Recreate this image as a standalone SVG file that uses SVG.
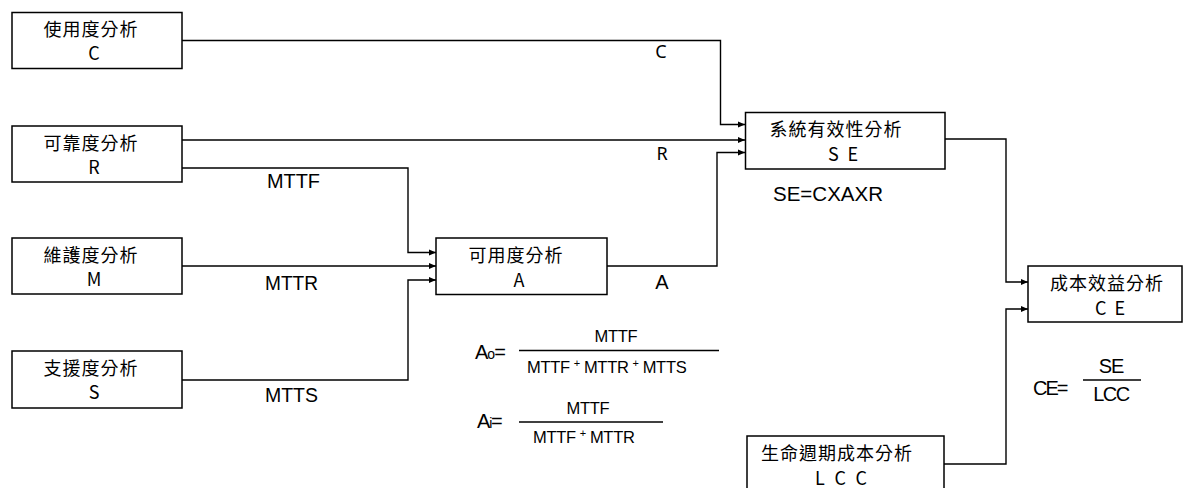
<svg xmlns="http://www.w3.org/2000/svg" width="1187" height="488" viewBox="0 0 1187 488">
<style>
.box{fill:#fff;stroke:#000;stroke-width:1.5}
.cjk{font-family:"Noto Sans CJK TC","Noto Sans",sans-serif;font-size:18px;fill:#000;text-anchor:middle}
.lat{font-family:"Liberation Sans",Arial,sans-serif;fill:#000}
.ns{font-family:"Noto Sans","Noto Sans CJK TC",sans-serif;font-size:18px;fill:#000}
.conn{fill:none;stroke:#000;stroke-width:1.4}
.frac{stroke:#000;stroke-width:1.4}
</style>
<defs>
<marker id="arr" markerUnits="userSpaceOnUse" markerWidth="8" markerHeight="8" refX="7" refY="4" orient="auto">
<path d="M0,1 L7,4 L0,7 Z" fill="#000"/>
</marker>
</defs>
<rect width="1187" height="488" fill="#fff"/>
<g id="connectors">
<path class="conn" d="M182,40.5 H720.5 V124.5 H745" marker-end="url(#arr)"/>
<path class="conn" d="M182,140 H745" marker-end="url(#arr)"/>
<path class="conn" d="M182,168 H408 V252.5 H436" marker-end="url(#arr)"/>
<path class="conn" d="M182,266 H436" marker-end="url(#arr)"/>
<path class="conn" d="M182,380 H408 V280 H436" marker-end="url(#arr)"/>
<path class="conn" d="M607,266 H717 V152.5 H745" marker-end="url(#arr)"/>
<path class="conn" d="M945,139 H1006 V282 H1028" marker-end="url(#arr)"/>
<path class="conn" d="M944,464 H1006 V309 H1028" marker-end="url(#arr)"/>
<text class="ns" x="661" y="58" text-anchor="middle">C</text>
<text class="ns" x="662" y="160" text-anchor="middle">R</text>
<text class="lat" x="267" y="188" font-size="20" textLength="53" lengthAdjust="spacingAndGlyphs">MTTF</text>
<text class="lat" x="265" y="290" font-size="20" textLength="53" lengthAdjust="spacingAndGlyphs">MTTR</text>
<text class="lat" x="265" y="402" font-size="20" textLength="53" lengthAdjust="spacingAndGlyphs">MTTS</text>
<text class="lat" x="662" y="289" font-size="20" text-anchor="middle">A</text>
</g>
<g id="node-C">
<rect class="box" x="12" y="12.5" width="170" height="56"/>
<text class="cjk" x="91" y="36" letter-spacing="1">使用度分析</text>
<text class="cjk" x="94" y="60">C</text>
</g>
<g id="node-R">
<rect class="box" x="12" y="126" width="170" height="56"/>
<text class="cjk" x="91" y="150" letter-spacing="1">可靠度分析</text>
<text class="cjk" x="94" y="174">R</text>
</g>
<g id="node-M">
<rect class="box" x="12" y="238" width="170" height="56"/>
<text class="cjk" x="91" y="262" letter-spacing="1">維護度分析</text>
<text class="cjk" x="94" y="286">M</text>
</g>
<g id="node-S">
<rect class="box" x="12" y="351" width="170" height="57"/>
<text class="cjk" x="91" y="375" letter-spacing="1">支援度分析</text>
<text class="cjk" x="94" y="399">S</text>
</g>
<g id="node-A">
<rect class="box" x="436" y="238" width="171" height="56.5"/>
<text class="cjk" x="516" y="262" letter-spacing="1">可用度分析</text>
<text class="cjk" x="519" y="287">A</text>
</g>
<g id="node-SE">
<rect class="box" x="745.5" y="112.5" width="199.5" height="56.5"/>
<text class="cjk" x="836" y="136" letter-spacing="1">系統有效性分析</text>
<text class="cjk" x="843" y="161" textLength="30" lengthAdjust="spacing">S E</text>
</g>
<g id="node-CE">
<rect class="box" x="1028" y="266" width="154" height="56"/>
<text class="cjk" x="1107" y="290" letter-spacing="1">成本效益分析</text>
<text class="cjk" x="1110" y="315" textLength="30" lengthAdjust="spacing">C E</text>
</g>
<g id="node-LCC">
<rect class="box" x="747" y="436" width="197" height="60"/>
<text class="cjk" x="837" y="460" letter-spacing="1">生命週期成本分析</text>
<text class="cjk" x="841" y="485" textLength="52" lengthAdjust="spacing">L C C</text>
</g>
<g id="formulas">
<text class="lat" x="773" y="201" font-size="20" textLength="110" lengthAdjust="spacingAndGlyphs">SE=CXAXR</text>
<text class="lat" x="475" y="359" font-size="20" letter-spacing="-1">A<tspan font-size="14">o</tspan>=</text>
<line class="frac" x1="519" y1="350.5" x2="719" y2="350.5"/>
<text class="lat" x="616" y="342" font-size="16.5" text-anchor="middle" letter-spacing="-0.3">MTTF</text>
<text class="lat" x="527" y="373" font-size="16.5" letter-spacing="-0.3">MTTF<tspan font-size="11" dx="4" dy="-6">+</tspan><tspan dx="4" dy="6">MTTR</tspan><tspan font-size="11" dx="4" dy="-6">+</tspan><tspan dx="4" dy="6">MTTS</tspan></text>
<text class="lat" x="477" y="428" font-size="20" letter-spacing="-1.2">A<tspan font-size="14">i</tspan>=</text>
<line class="frac" x1="519" y1="422" x2="663" y2="422"/>
<text class="lat" x="588" y="414" font-size="16.5" text-anchor="middle" letter-spacing="-0.3">MTTF</text>
<text class="lat" x="533" y="443" font-size="16.5" letter-spacing="-0.3">MTTF<tspan font-size="11" dx="4" dy="-6">+</tspan><tspan dx="4" dy="6">MTTR</tspan></text>
<text class="lat" x="1033" y="395" font-size="20" letter-spacing="-2">CE=</text>
<line class="frac" x1="1083" y1="380" x2="1141" y2="380"/>
<text class="lat" x="1111" y="373" font-size="20" text-anchor="middle" letter-spacing="-1">SE</text>
<text class="lat" x="1111" y="401" font-size="20" text-anchor="middle" letter-spacing="-1.5">LCC</text>
</g>
</svg>
